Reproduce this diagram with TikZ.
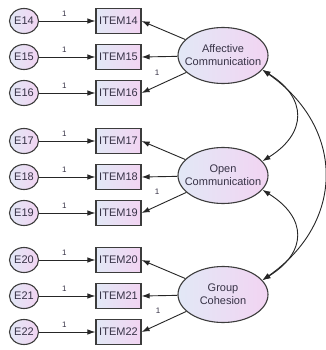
\documentclass[tikz,border=0pt]{standalone}
\usepackage{fontspec}
\setmainfont{Liberation Sans}
\usetikzlibrary{arrows.meta,shapes.geometric}
\definecolor{txt}{RGB}{55,50,70}
\definecolor{bord}{RGB}{60,60,60}
\definecolor{fl}{RGB}{226,232,246}
\definecolor{fr}{RGB}{242,212,242}
\begin{document}
\begin{tikzpicture}[x=1pt,y=-1pt,
  every node/.style={font=\fontsize{11}{13}\selectfont, text=txt},
  errnode/.style={ellipse, draw=bord, line width=1.1pt, left color=fl, right color=fr, minimum width=29pt, minimum height=25pt, inner sep=0pt},
  itembox/.style={rectangle, draw=bord, line width=1.2pt, left color=fl, right color=fr, minimum width=45pt, minimum height=25pt, inner sep=0pt},
  latentnode/.style={ellipse, draw=bord, line width=1.1pt, left color=fl, right color=fr, minimum width=90pt, minimum height=56pt, inner sep=0pt},
  lattext/.style={align=center, inner sep=0pt},
  arr/.style={-{Latex[length=8pt,width=5.5pt]}, line width=0.9pt, black!85},
  darr/.style={{Latex[length=8pt,width=5.5pt]}-{Latex[length=8pt,width=5.5pt]}, line width=0.9pt, black!85},
  one/.style={font=\fontsize{8}{9}\selectfont, inner sep=0pt, text=txt},
]
\fill[white] (0,0) rectangle (325,350);
\useasboundingbox (0,0) rectangle (325,350);

% latent variables
\node[latentnode] (aff) at (223,55.5) {};
\node[lattext] (afft) at (aff) {Affective\\Communication};
\node[latentnode] (open) at (223,175.5) {};
\node[lattext] (opent) at (open) {Open\\Communication};
\node[latentnode] (grp) at (223,294.5) {};
\node[lattext] (grpt) at (grp) {Group\\Cohesion};

% items and errors
\foreach \n/\y in {14/21,15/57,16/93,17/141,18/177,19/213,20/260,21/296,22/332}{
  \node[itembox] (i\n) at (118.5,\y) {ITEM\n};
  \node[errnode] (e\n) at (24,\y) {E\n};
  \draw[arr] (e\n) -- node[one, pos=0.45, above=4pt] (o\n) {1} (i\n);
}

% loadings
\foreach \f/\a/\b/\c in {aff/14/15/16, open/17/18/19, grp/20/21/22}{
  \draw[arr] (\f) -- (i\a.east);
  \draw[arr] (\f) -- (i\b.east);
  \draw[arr] (\f) -- (i\c.east);
}
\node[one] (l16) at (157,73) {1};
\node[one] (l19) at (157,192) {1};
\node[one] (l22) at (158,311) {1};

% covariances
\draw[darr] (aff.-20) .. controls +(45,28) and +(45,-28) .. (open.20);
\draw[darr] (open.-20) .. controls +(45,28) and +(45,-28) .. (grp.20);
\draw[darr] (aff.-20) .. controls +(83,58) and +(83,-58) .. (grp.20);
\end{tikzpicture}
\end{document}
